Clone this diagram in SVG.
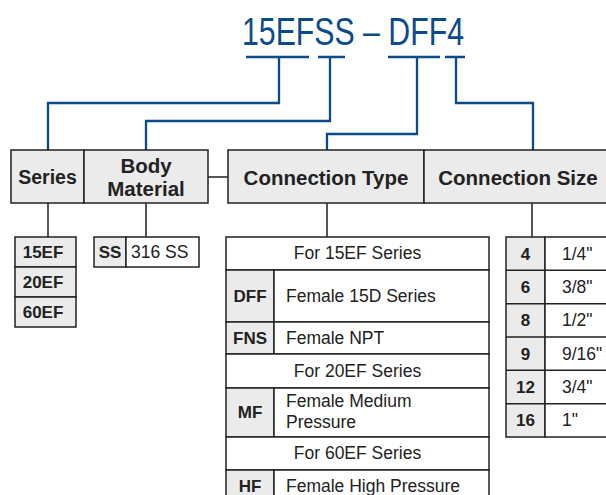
<svg xmlns="http://www.w3.org/2000/svg" width="606" height="495" viewBox="0 0 606 495">
<style>
.bl{fill:none;stroke:#0b4a8b;stroke-width:2.3}
.k{fill:none;stroke:#222;stroke-width:1.5}
.g{fill:#ebebeb;stroke:#222;stroke-width:1.5}
.w{fill:#fff;stroke:#222;stroke-width:1.5}
text{font-family:"Liberation Sans",Arial,sans-serif;fill:#222}
.h{font-size:20.5px;font-weight:bold;text-anchor:middle}
.b{font-size:17px;font-weight:bold;text-anchor:middle}
.r{font-size:17.5px}
.rc{font-size:17.5px;text-anchor:middle}
</style>
<rect width="606" height="495" fill="#fff"/>
<g id="title">
<text x="242" y="45" font-size="39" style="fill:#0b4a8b" textLength="222" lengthAdjust="spacingAndGlyphs">15EFSS – DFF4</text>
</g>
<g id="connectors">
<path class="bl" d="M246 57H309M318 57H345M388 57H440M445 57H465"/>
<path class="bl" d="M279 57V103H48V150"/>
<path class="bl" d="M330 57V121H146V150"/>
<path class="bl" d="M417 57V134H327V150"/>
<path class="bl" d="M456 57V103H533V150"/>
<path class="k" d="M208 177H228M48 203V237M146 203V237M327 203V237M532 203V237"/>
</g>
<g id="series">
<rect class="g" x="11" y="150" width="73" height="53"/>
<text class="h" x="47.5" y="184" style="font-size:19.5px">Series</text>
</g>
<g id="body-material">
<rect class="g" x="84" y="150" width="124" height="53"/>
<text class="h" x="146" y="173">Body</text>
<text class="h" x="146" y="196">Material</text>
</g>
<g id="connection-type">
<rect class="g" x="228" y="150" width="196" height="53"/>
<text class="h" x="326" y="185">Connection Type</text>
</g>
<g id="connection-size">
<rect class="g" x="424" y="150" width="190" height="53"/>
<text class="h" x="518" y="185">Connection Size</text>
</g>
<g id="series-table">
<rect class="g" x="15" y="237" width="61" height="30"/>
<rect class="g" x="15" y="267" width="61" height="30"/>
<rect class="g" x="15" y="297" width="61" height="30"/>
<text class="b" x="43" y="258">15EF</text>
<text class="b" x="43" y="288">20EF</text>
<text class="b" x="43" y="318">60EF</text>
</g>
<g id="material-table">
<rect class="g" x="94" y="237" width="32" height="30"/>
<rect class="w" x="126" y="237" width="73" height="30"/>
<text class="b" x="110" y="258">SS</text>
<text class="r" x="131" y="258">316 SS</text>
</g>
<g id="type-table">
<rect class="w" x="226" y="237" width="263" height="33"/>
<text class="rc" x="357.5" y="259">For 15EF Series</text>
<rect class="g" x="226" y="270" width="48" height="52"/>
<rect class="w" x="274" y="270" width="215" height="52"/>
<text class="b" x="250" y="302">DFF</text>
<text class="r" x="286" y="302">Female 15D Series</text>
<rect class="g" x="226" y="322" width="48" height="32"/>
<rect class="w" x="274" y="322" width="215" height="32"/>
<text class="b" x="250" y="344">FNS</text>
<text class="r" x="286" y="344">Female NPT</text>
<rect class="w" x="226" y="354" width="263" height="34"/>
<text class="rc" x="357.5" y="377">For 20EF Series</text>
<rect class="g" x="226" y="388" width="48" height="49"/>
<rect class="w" x="274" y="388" width="215" height="49"/>
<text class="b" x="250" y="418">MF</text>
<text class="r" x="286" y="407">Female Medium</text>
<text class="r" x="286" y="428">Pressure</text>
<rect class="w" x="226" y="437" width="263" height="33"/>
<text class="rc" x="357.5" y="459">For 60EF Series</text>
<rect class="g" x="226" y="470" width="48" height="34"/>
<rect class="w" x="274" y="470" width="215" height="34"/>
<text class="b" x="250" y="492">HF</text>
<text class="r" x="286" y="492">Female High Pressure</text>
</g>
<g id="size-table">
<rect class="g" x="506" y="237" width="39" height="200"/>
<rect class="w" x="545" y="237" width="68" height="200"/>
<path class="k" d="M506 270.3H613M506 303.7H613M506 337H613M506 370.3H613M506 403.7H613"/>
<text class="b" x="525.5" y="259.5">4</text>
<text class="r" x="562" y="259.5">1/4"</text>
<text class="b" x="525.5" y="292.8">6</text>
<text class="r" x="562" y="292.8">3/8"</text>
<text class="b" x="525.5" y="326.2">8</text>
<text class="r" x="562" y="326.2">1/2"</text>
<text class="b" x="525.5" y="359.5">9</text>
<text class="r" x="562" y="359.5">9/16"</text>
<text class="b" x="525.5" y="392.8">12</text>
<text class="r" x="562" y="392.8">3/4"</text>
<text class="b" x="525.5" y="426.2">16</text>
<text class="r" x="562" y="426.2">1"</text>
</g>
</svg>
